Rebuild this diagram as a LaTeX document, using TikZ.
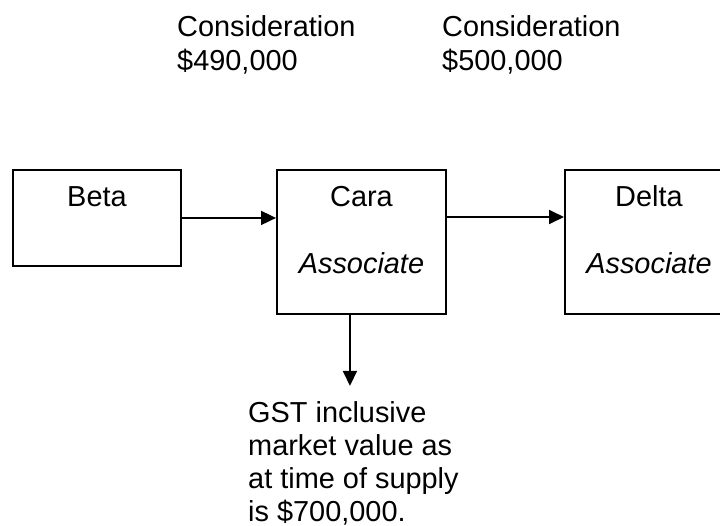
\documentclass[tikz,border=0pt]{standalone}
\usepackage{fontspec}
\setmainfont{Liberation Sans}
\usetikzlibrary{arrows.meta,calc}
\begin{document}
\begin{tikzpicture}[x=1pt,y=1pt,
  box/.style={draw=black,line width=1.9pt,rectangle,inner sep=0pt,minimum width=#1},
  txt/.style={font=\fontsize{28.9}{33.5}\selectfont,inner sep=0pt},
  arr/.style={line width=1.8pt,-{Triangle[length=15pt,width=14pt]}}]
\useasboundingbox (0,0) rectangle (720,-526);
\clip (0,0) rectangle (720,-526);
% boxes
\node[box=168pt,minimum height=96pt,anchor=north west] (beta) at (12,-169) {};
\node[box=169pt,minimum height=144pt,anchor=north west] (cara) at (276,-169) {};
\node[box=168pt,minimum height=144pt,anchor=north west] (delta) at (564,-169) {};
% box texts
\node[txt,anchor=base] (betat) at ([yshift=-38pt]beta.north) {Beta};
\node[txt,anchor=base] (carat) at ([yshift=-38pt]cara.north) {Cara};
\node[txt,anchor=base] (caraa) at ([yshift=-105pt]cara.north) {\itshape Associate};
\node[txt,anchor=base] (deltat) at ([yshift=-38pt]delta.north) {Delta};
\node[txt,anchor=base] (deltaa) at ([yshift=-105pt]delta.north) {\itshape Associate};
% considerations
\node[txt,anchor=base west] (c1a) at (177,-37) {Consideration};
\node[txt,anchor=base west] (c1b) at (177,-71) {\$490,000};
\node[txt,anchor=base west] (c2a) at (442,-37) {Consideration};
\node[txt,anchor=base west] (c2b) at (442,-71) {\$500,000};
% GST text
\node[txt,anchor=base west] (g1) at (248,-422) {GST inclusive};
\node[txt,anchor=base west] (g2) at (248,-455) {market value as};
\node[txt,anchor=base west] (g3) at (248,-488) {at time of supply};
\node[txt,anchor=base west] (g4) at (248,-521) {is \$700,000.};
% arrows
\draw[arr] (beta.east) -- (beta.east -| cara.west);
\draw[arr] ([yshift=-48pt]cara.north east) -- ([yshift=-48pt]delta.north west);
\coordinate (down) at ([xshift=-11.5pt,yshift=-71pt]cara.south);
\draw[arr] ([xshift=-11.5pt]cara.south) -- (down);
\end{tikzpicture}
\end{document}
